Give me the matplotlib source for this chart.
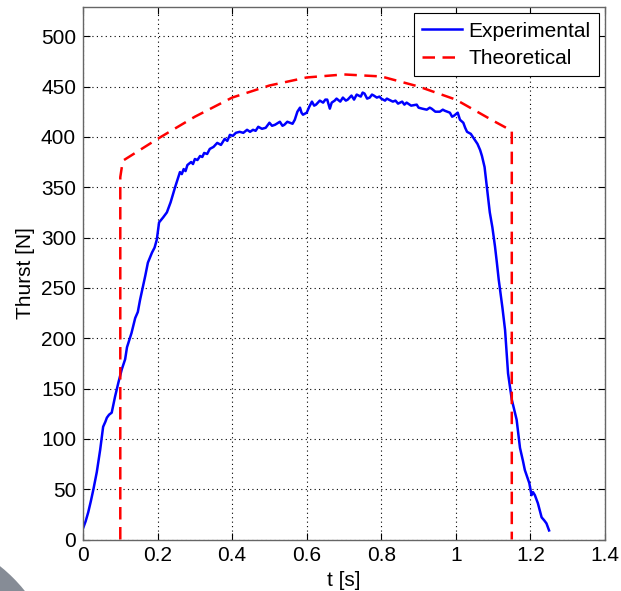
import matplotlib
matplotlib.use("Agg")
import matplotlib.pyplot as plt
from matplotlib.patches import Circle

plt.rcParams['font.family'] = ['Liberation Sans', 'DejaVu Sans']

# Experimental thrust curve
t_exp = [0.001, 0.007, 0.014, 0.021, 0.028, 0.037, 0.046, 0.054, 0.06, 0.064, 0.07, 0.077, 0.086,
         0.095, 0.104, 0.113,
         0.118, 0.124, 0.13, 0.14, 0.147, 0.153, 0.16, 0.167, 0.174, 0.185, 0.192, 0.198, 0.204,
         0.215, 0.225, 0.235, 0.247,
         0.26, 0.265, 0.27, 0.275, 0.28, 0.29, 0.295, 0.3, 0.307, 0.314, 0.32, 0.325, 0.333, 0.34,
         0.35, 0.36, 0.37, 0.38, 0.387, 0.394, 0.402, 0.41, 0.42,
         0.43, 0.44, 0.448, 0.456, 0.463, 0.47, 0.48, 0.49, 0.5, 0.507, 0.515, 0.528, 0.535, 0.54,
         0.548, 0.555, 0.562, 0.568, 0.575, 0.582, 0.586, 0.59,
         0.6, 0.607, 0.614, 0.62, 0.625, 0.635, 0.644, 0.65, 0.655, 0.662, 0.667, 0.675, 0.68,
         0.69, 0.697, 0.705, 0.71, 0.72, 0.727, 0.734,
         0.745, 0.75, 0.755, 0.762, 0.769, 0.775, 0.78, 0.788, 0.795, 0.8, 0.81, 0.815, 0.82, 0.831,
         0.838, 0.845, 0.856, 0.862, 0.868, 0.88,
         0.895, 0.9, 0.91, 0.922, 0.93, 0.935, 0.945, 0.957, 0.965, 0.97, 0.984, 0.99, 0.995, 1.005,
         1.011, 1.02, 1.025, 1.03,
         1.04, 1.051, 1.058, 1.065, 1.07, 1.077, 1.083, 1.091, 1.098, 1.105, 1.11, 1.115, 1.125,
         1.132, 1.14, 1.15, 1.157, 1.163, 1.172, 1.18, 1.185, 1.197, 1.203, 1.207, 1.212, 1.22,
         1.23, 1.237, 1.243, 1.25]
v_exp = [12, 18, 27, 38, 50, 67, 89, 112, 117, 121, 124, 126, 142,
         156, 169, 179,
         191, 198, 205, 220, 226, 238, 250, 262, 275, 285, 290, 298, 315,
         320, 325, 335, 350,
         365, 363, 368, 366, 372, 375, 373, 378, 377, 381, 380, 384, 383, 388,
         390, 394, 392, 398, 396, 402, 401, 404, 405,
         404, 407, 405, 407, 406, 410, 408, 409, 414, 411, 412, 415, 411, 412,
         415, 414, 413, 417, 425, 429, 424, 422,
         424, 430, 435, 431, 432, 436, 434, 437, 437, 428, 434, 436, 438,
         435, 439, 436, 437, 441, 437, 442,
         440, 444, 443, 438, 439, 442, 441, 439, 440, 438, 436, 438, 437, 435,
         436, 433, 435, 432, 434, 431,
         432, 429, 428, 427, 429, 428, 425, 425, 427, 426, 424, 420, 421, 424,
         417, 414, 409, 405,
         403, 397, 393, 387, 381, 370, 351, 325, 310, 291, 275, 258, 230,
         208, 165, 139, 128, 119, 91, 78, 69, 56, 44, 47, 44, 36,
         22, 19, 16, 9]

# Theoretical thrust curve
t_th = [0.1, 0.1, 0.105, 0.11, 0.2, 0.3, 0.4, 0.5, 0.55, 0.6, 0.7, 0.8, 0.9, 1.0, 1.1, 1.15, 1.15]
v_th = [0, 360, 372, 377, 398, 420, 439, 451, 455, 459, 462, 460, 450, 437, 416, 406, 0]

xticks = [0, 0.2, 0.4, 0.6, 0.8, 1, 1.2, 1.4]
xticklabels = ['0', '0.2', '0.4', '0.6', '0.8', '1', '1.2', '1.4']
yticks = [0, 50, 100, 150, 200, 250, 300, 350, 400, 450, 500]

fig = plt.figure(figsize=(6.21, 5.91), dpi=100)
fig.patch.set_facecolor('white')
fig.patches.append(Circle((-100, -100), 160, transform=None, facecolor='#868c96',
                          edgecolor='none', zorder=0))

ax = fig.add_axes([83/621, 51.5/591, 522/621, 532.5/591])
ax.plot(t_exp, v_exp, color='#0000ff', lw=1.8, label='Experimental')
ax.plot(t_th, v_th, color='#ff0000', lw=1.8, ls=(0, (5, 3)), label='Theoretical')

ax.set_xlim(0, 1.4)
ax.set_ylim(0, 529)
ax.set_xticks(xticks)
ax.set_xticklabels(xticklabels)
ax.set_yticks(yticks)
ax.grid(True, ls=(0, (1, 3)), color='black', lw=0.8)
ax.tick_params(direction='in', top=True, right=True, length=5, width=0.8,
               labelsize=15, colors='black', pad=5)
for s in ax.spines.values():
    s.set_color('#666666')
    s.set_linewidth(1.0)

ax.set_xlabel('t [s]', fontsize=15, labelpad=4)
ax.set_ylabel('Thurst [N]', fontsize=15, labelpad=4)

leg = ax.legend(loc='upper right', fontsize=15, frameon=True, fancybox=False,
                framealpha=1, edgecolor='black', handlelength=1.9, borderaxespad=0.3,
                borderpad=0.4, labelspacing=0.4, handletextpad=0.3)
leg.get_frame().set_linewidth(0.8)

fig.savefig('out.png', dpi=100)
